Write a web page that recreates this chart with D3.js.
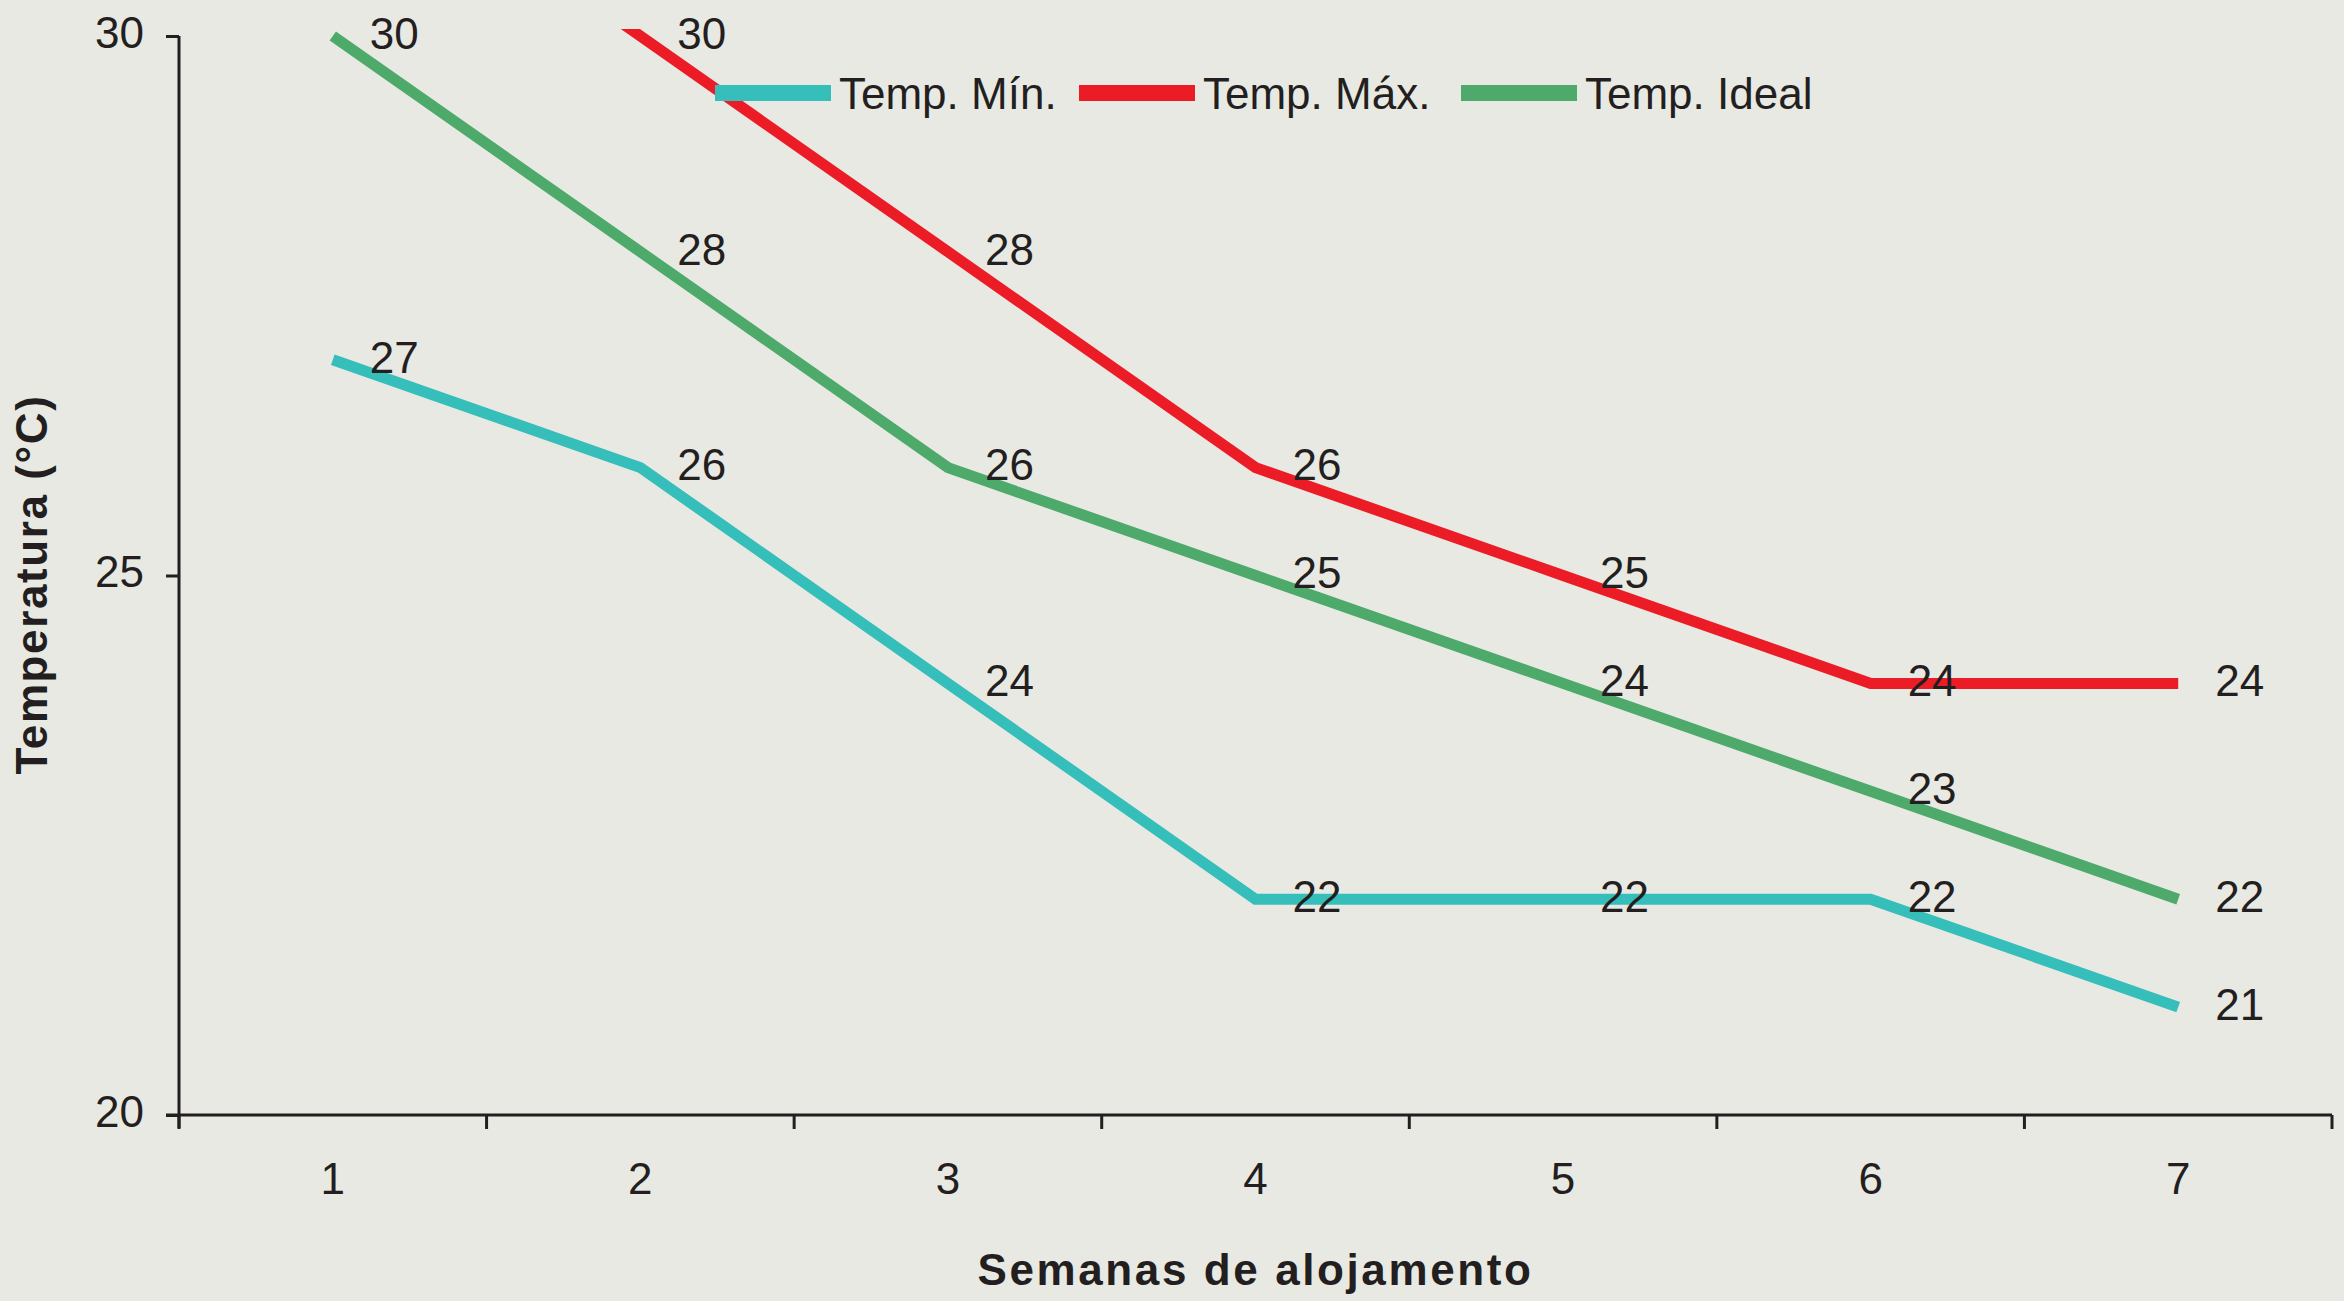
<!DOCTYPE html>
<html>
<head>
<meta charset="utf-8">
<script src="https://cdn.jsdelivr.net/npm/d3@7"></script>
<style>
  html, body { margin: 0; padding: 0; background: #E9E9E3; }
  svg { display: block; }
  text { font-family: "Liberation Sans", Arial, sans-serif; fill: #231F20; }
</style>
</head>
<body>
<svg id="chart" width="2344" height="1301"></svg>
<script>
// ---- data ----
const weeks = ["1", "2", "3", "4", "5", "6", "7"];
const tempMin = [27, 26, 24, 22, 22, 22, 21];
const tempMax = [32, 30, 28, 26, 25, 24, 24];
const tempIdeal = [30, 28, 26, 25, 24, 23, 22];
const seriesNames = ["Temp. Mín.", "Temp. Máx.", "Temp. Ideal"];
const seriesColors = ["#36BEBA", "#EC1C27", "#4EAA6B"];
const yTicks = [20, 25, 30];
const maxLabelFrom = 1; // first visible label index of Temp. Máx.

(function () {
const series = [
  { name: seriesNames[0], color: seriesColors[0], values: tempMin, labelFrom: 0 },
  { name: seriesNames[1], color: seriesColors[1], values: tempMax, labelFrom: maxLabelFrom },
  { name: seriesNames[2], color: seriesColors[2], values: tempIdeal, labelFrom: 0 }
];

// ---- layout ----
const svg = d3.select("#chart");
const pL = 179, pR = 2332, pT = 36, pB = 1115;
const ink = "#231F20";
const fontSize = 44;

const x = d3.scaleBand().domain(weeks).range([pL, pR]).paddingInner(0).paddingOuter(0);
const y = d3.scaleLinear().domain([20, 30]).range([pB, pT]);
const cx = w => x(w) + x.bandwidth() / 2;

// clip for lines
svg.append("defs").append("clipPath").attr("id", "plotclip")
  .append("rect").attr("x", pL).attr("y", pT - 7).attr("width", pR - pL + 20).attr("height", pB - pT + 20);

// ---- lines ----
const line = d3.line().x(d => cx(d.w)).y(d => y(d.v)).curve(d3.curveLinear);
const gLines = svg.append("g").attr("clip-path", "url(#plotclip)");
series.forEach(s => {
  const pts = weeks.map((w, i) => ({ w, v: s.values[i] }));
  gLines.append("path")
    .attr("d", line(pts))
    .attr("fill", "none")
    .attr("stroke", s.color)
    .attr("stroke-width", 11)
    .attr("stroke-linecap", "butt")
    .attr("stroke-linejoin", "miter");
});

// ---- data labels ----
const gLabels = svg.append("g");
series.forEach(s => {
  weeks.forEach((w, i) => {
    if (i < s.labelFrom) return;
    const v = s.values[i];
    gLabels.append("text")
      .attr("x", cx(w) + 37)
      .attr("y", y(v) - 3)
      .attr("dy", "0.36em")
      .attr("font-size", fontSize)
      .text(v);
  });
});

// ---- y axis ----
const yAxis = d3.axisLeft(y).tickValues(yTicks).tickSize(13).tickPadding(22).tickFormat(d3.format("d"));
const gy = svg.append("g").attr("transform", `translate(${pL},0)`).call(yAxis);
gy.select(".domain").attr("d", `M0,${pT}V${pB + 13}`).attr("stroke", ink).attr("stroke-width", 3);
gy.selectAll(".tick line").attr("stroke", ink).attr("stroke-width", 3);
gy.selectAll(".tick text").attr("font-size", fontSize).attr("font-family", null).attr("fill", ink).attr("dy", "0.26em");

// ---- x axis ----
const xAxis = d3.axisBottom(x).tickSize(0).tickPadding(48);
const gx = svg.append("g").attr("transform", `translate(0,${pB})`).call(xAxis);
gx.select(".domain").attr("d", `M${pL - 13},0H${pR}`).attr("stroke", ink).attr("stroke-width", 3);
gx.selectAll(".tick text").attr("font-size", fontSize).attr("font-family", null).attr("fill", ink);
const bounds = weeks.map(w => x(w)).concat([x(weeks[weeks.length - 1]) + x.bandwidth()]);
gx.selectAll("line.bound").data(bounds).enter().append("line")
  .attr("class", "bound")
  .attr("x1", d => d).attr("x2", d => d)
  .attr("y1", 0).attr("y2", 14)
  .attr("stroke", ink).attr("stroke-width", 3);

// ---- axis titles ----
svg.append("text")
  .attr("x", (pL + pR) / 2)
  .attr("y", 1269)
  .attr("dy", "0.36em")
  .attr("text-anchor", "middle")
  .attr("font-size", 44)
  .attr("font-weight", "bold")
  .attr("letter-spacing", 2.6)
  .text("Semanas de alojamento");

svg.append("text")
  .attr("transform", `translate(31,${(pT + pB) / 2 + 9}) rotate(-90)`)
  .attr("dy", "0.36em")
  .attr("text-anchor", "middle")
  .attr("font-size", 44)
  .attr("font-weight", "bold")
  .attr("letter-spacing", 1.6)
  .text("Temperatura (°C)");

// ---- legend ----
const legendX = [715, 1079, 1461];
const gLeg = svg.append("g");
series.forEach((s, i) => {
  const g = gLeg.append("g").attr("transform", `translate(${legendX[i]},93)`);
  g.append("rect").attr("x", 0).attr("y", -8).attr("width", 116).attr("height", 16).attr("fill", s.color);
  g.append("text").attr("x", 124).attr("y", 0).attr("dy", "0.36em").attr("font-size", fontSize).text(s.name);
});
})();
</script>
</body>
</html>
